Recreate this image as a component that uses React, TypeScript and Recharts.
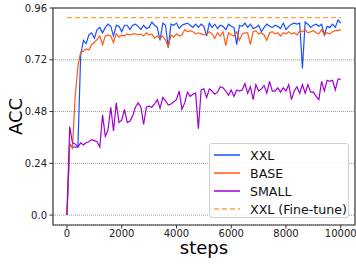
import {
  CartesianGrid,
  Legend,
  Line,
  LineChart,
  ReferenceArea,
  XAxis,
  YAxis,
} from "recharts";

const steps: number[] = Array.from({ length: 101 }, (_, i) => i * 100);

const xxl = [
  0, 0.33, 0.315, 0.315, 0.315, 0.74, 0.81, 0.795, 0.835, 0.845,
  0.82, 0.86, 0.87, 0.845, 0.87, 0.885, 0.875, 0.83, 0.88, 0.875,
  0.85, 0.88, 0.88, 0.86, 0.88, 0.885, 0.875, 0.86, 0.88, 0.865,
  0.87, 0.895, 0.88, 0.87, 0.81, 0.89, 0.88, 0.775, 0.885, 0.88,
  0.89, 0.865, 0.88, 0.885, 0.89, 0.88, 0.87, 0.885, 0.87, 0.885,
  0.875, 0.83, 0.89, 0.87, 0.885, 0.865, 0.88, 0.875, 0.86, 0.885,
  0.875, 0.87, 0.79, 0.88, 0.875, 0.89, 0.87, 0.885, 0.865, 0.87,
  0.88, 0.85, 0.87, 0.885, 0.875, 0.87, 0.88, 0.875, 0.865, 0.89,
  0.86, 0.875, 0.885, 0.89, 0.885, 0.89, 0.68, 0.895, 0.885, 0.87,
  0.88, 0.885, 0.875, 0.885, 0.835, 0.875, 0.87, 0.885, 0.87, 0.905,
  0.89,
];

const base = [
  0, 0.33, 0.31, 0.55, 0.69, 0.755, 0.76, 0.77, 0.765, 0.79,
  0.8, 0.815, 0.83, 0.79, 0.83, 0.835, 0.83, 0.8, 0.84, 0.825,
  0.835, 0.83, 0.84, 0.835, 0.84, 0.84, 0.835, 0.84, 0.83, 0.845,
  0.835, 0.84, 0.82, 0.83, 0.82, 0.83, 0.81, 0.78, 0.835, 0.825,
  0.84, 0.83, 0.835, 0.86, 0.85, 0.855, 0.85, 0.84, 0.845, 0.84,
  0.835, 0.84, 0.85, 0.84, 0.82, 0.845, 0.83, 0.85, 0.785, 0.845,
  0.835, 0.83, 0.85, 0.81, 0.84, 0.845, 0.845, 0.79, 0.85, 0.855,
  0.84, 0.845, 0.835, 0.81, 0.845, 0.85, 0.84, 0.845, 0.83, 0.845,
  0.84, 0.85, 0.84, 0.845, 0.835, 0.855, 0.85, 0.86, 0.845, 0.85,
  0.855, 0.845, 0.84, 0.86, 0.835, 0.845, 0.84, 0.85, 0.855, 0.855,
  0.86,
];

const small = [
  0, 0.41, 0.335, 0.33, 0.316, 0.335, 0.325, 0.335, 0.34, 0.35,
  0.345, 0.34, 0.316, 0.465, 0.365, 0.395, 0.5, 0.39, 0.52, 0.43,
  0.44, 0.49, 0.43, 0.435, 0.46, 0.5, 0.52, 0.5, 0.42, 0.5,
  0.505, 0.5, 0.515, 0.535, 0.495, 0.545, 0.53, 0.51, 0.515, 0.525,
  0.535, 0.575, 0.49, 0.52, 0.57, 0.55, 0.56, 0.565, 0.4, 0.58,
  0.585, 0.545, 0.585, 0.575, 0.56, 0.57, 0.595, 0.59, 0.575, 0.555,
  0.58, 0.55, 0.58, 0.575, 0.58, 0.61, 0.565, 0.595, 0.535, 0.605,
  0.575, 0.585, 0.6, 0.565, 0.62, 0.575, 0.575, 0.59, 0.57, 0.59,
  0.575, 0.605, 0.535, 0.575, 0.595, 0.565, 0.605, 0.565, 0.605, 0.57,
  0.57, 0.55, 0.535, 0.62, 0.575, 0.625, 0.62, 0.625, 0.58, 0.63,
  0.63,
];

const fineTune = 0.915;

const yTicks = [0, 0.24, 0.48, 0.72, 0.96];
const xTicks = [0, 2000, 4000, 6000, 8000, 10000];

const series = [
  { key: "xxl", name: "XXL", color: "#1a4fff", dash: undefined },
  { key: "base", name: "BASE", color: "#ff5a14", dash: undefined },
  { key: "small", name: "SMALL", color: "#a000d0", dash: undefined },
  { key: "ft", name: "XXL (Fine-tune)", color: "#ffa43a", dash: "5 3" },
];

const rows = steps.map((s, i) => ({
  step: s,
  xxl: xxl[i],
  base: base[i],
  small: small[i],
  ft: fineTune,
}));

const font = "DejaVu Sans, sans-serif";

function LegendBox() {
  return (
    <div
      style={{
        width: 138,
        height: 73,
        border: "1px solid #d0d0d0",
        borderRadius: 3,
        background: "rgba(255,255,255,0.85)",
        fontFamily: font,
        fontSize: 12.6,
        color: "#111",
        position: "relative",
      }}
    >
      {series.map((s, i) => (
        <div
          key={s.key}
          style={{ position: "absolute", left: 4, top: 2 + i * 18, height: 18, display: "flex", alignItems: "center" }}
        >
          <svg width={26} height={4} style={{ marginRight: 10 }}>
            <line x1={0} y1={2} x2={26} y2={2} stroke={s.color} strokeWidth={1.5} strokeDasharray={s.dash} />
          </svg>
          <span>{s.name}</span>
        </div>
      ))}
    </div>
  );
}

export default function App() {
  return (
    <div style={{ position: "absolute", left: 0, top: 0 }}>
      <LineChart width={356} height={265} data={rows} margin={{ top: 8, right: 1, bottom: 0, left: 0 }}>
        <CartesianGrid vertical={false} stroke="#999" strokeDasharray="1 1" />
        <XAxis
          dataKey="step"
          type="number"
          domain={[-510, 10520]}
          ticks={xTicks}
          height={40}
          tickSize={3.5}
          tickMargin={1.5}
          tick={{ fill: "#222", fontSize: 10, fontFamily: font }}
          axisLine={false}
          tickLine={{ stroke: "#333" }}
          label={{
            content: ({ viewBox }: any) => (
              <text x={viewBox.x + viewBox.width / 2} y={254} textAnchor="middle" fontSize={18} fontFamily={font} fill="#000">
                steps
              </text>
            ),
          }}
        />
        <YAxis
          type="number"
          domain={[-0.046, 0.96]}
          ticks={yTicks}
          tickFormatter={(v: number) => (v === 0 ? "0.0" : v.toFixed(2))}
          width={53}
          tickSize={3.5}
          tickMargin={2.5}
          tick={{ fill: "#222", fontSize: 10, fontFamily: font }}
          axisLine={false}
          tickLine={{ stroke: "#333" }}
          allowDataOverflow
          label={{
            content: () => (
              <text
                x={15.5}
                y={116.5}
                transform="rotate(-90 15.5 116.5)"
                textAnchor="middle"
                dominantBaseline="central"
                fontSize={18}
                fontFamily={font}
                fill="#000"
              >
                ACC
              </text>
            ),
          }}
        />
        <ReferenceArea x1={-510} x2={10520} y1={-0.046} y2={0.96} fill="none" stroke="#333" strokeWidth={1.2} />
        {series.map((s) => (
          <Line
            key={s.key}
            dataKey={s.key}
            name={s.name}
            stroke={s.color}
            strokeWidth={1.2}
            strokeDasharray={s.dash}
            dot={false}
            isAnimationActive={false}
          />
        ))}
        <Legend
          layout="vertical"
          align="center"
          verticalAlign="middle"
          content={() => <LegendBox />}
          wrapperStyle={{ left: 209, top: 143, width: 140 }}
        />
      </LineChart>
    </div>
  );
}
